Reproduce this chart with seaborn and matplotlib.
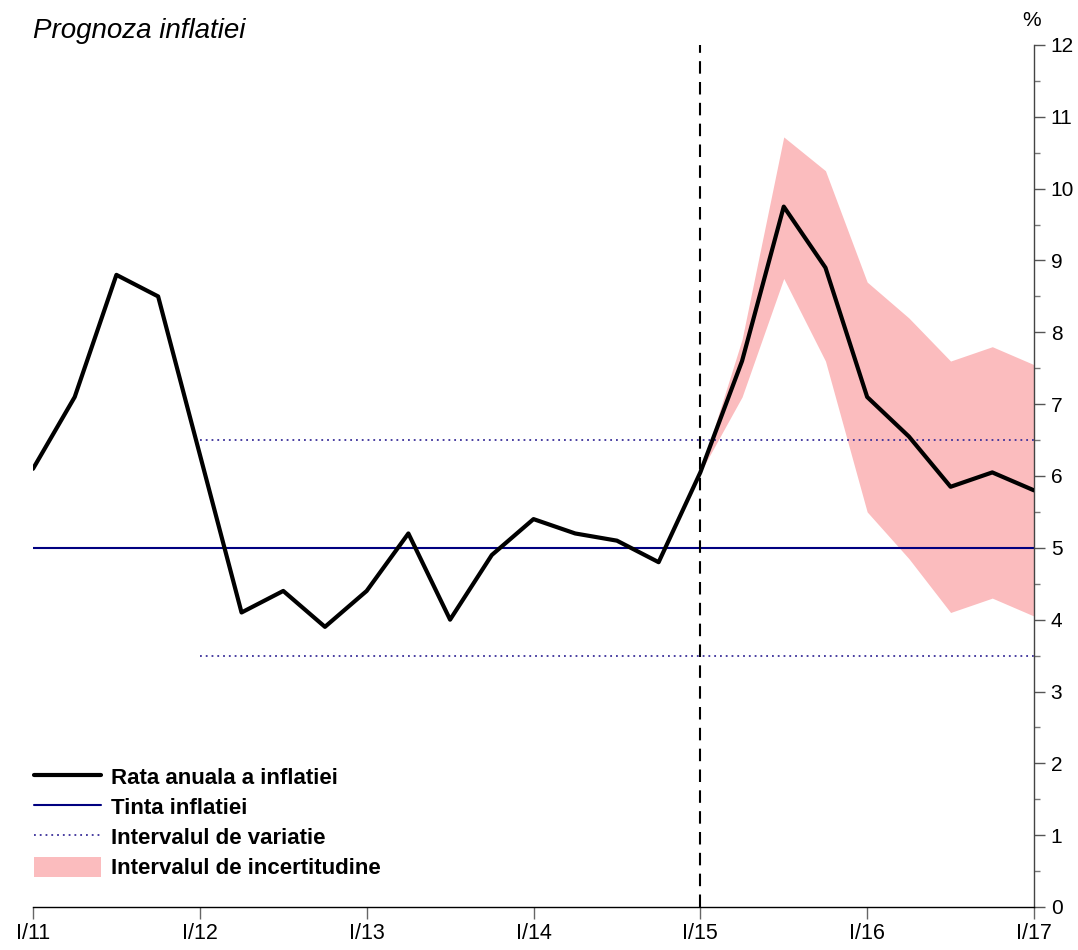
import numpy as np
import pandas as pd
import matplotlib.pyplot as plt
import seaborn as sns
from matplotlib.lines import Line2D
from matplotlib.patches import Patch
from matplotlib.ticker import MultipleLocator

# trimestre: 0 = I/11 ... 24 = I/17
trimestre = list(range(25))
rata_inflatiei = [6.1, 7.1, 8.8, 8.5, 6.3, 4.1, 4.4, 3.9, 4.4, 5.2, 4.0, 4.9,
                  5.4, 5.2, 5.1, 4.8, 6.05, 7.6, 9.75, 8.9, 7.1, 6.55, 5.85, 6.05, 5.8]

# intervalul de incertitudine (prognoza, de la I/15)
trimestre_prognoza = list(range(16, 25))
interval_sus = [6.05, 7.9, 10.72, 10.25, 8.7, 8.2, 7.6, 7.8, 7.55]
interval_jos = [6.05, 7.1, 8.75, 7.6, 5.5, 4.85, 4.1, 4.3, 4.05]

tinta = 5.0
variatie_jos = 3.5
variatie_sus = 6.5
inceput_variatie = 4      # I/12
moment_prognoza = 16      # I/15

etichete_x = ['I/11', 'I/12', 'I/13', 'I/14', 'I/15', 'I/16', 'I/17']
pozitii_x = [0, 4, 8, 12, 16, 20, 24]

df = pd.DataFrame({'trim': trimestre, 'rata': rata_inflatiei})

sns.set_style('white')
plt.rcParams['font.family'] = ['Liberation Sans', 'DejaVu Sans']
plt.rcParams['text.color'] = 'black'
plt.rcParams['xtick.color'] = 'black'
plt.rcParams['ytick.color'] = 'black'

fig = plt.figure(figsize=(10.78, 9.5), dpi=100)
ax = fig.add_axes([33 / 1078, 43 / 950, (1034 - 33) / 1078, (907 - 45) / 950])

culoare_roz = '#fbbcbe'
culoare_tinta = '#000080'
culoare_variatie = '#3a2f9a'

ax.fill_between(trimestre_prognoza, interval_jos, interval_sus, color=culoare_roz, lw=0, zorder=1)
ax.axhline(tinta, color=culoare_tinta, lw=1.5, zorder=2)
ax.hlines([variatie_sus, variatie_jos], inceput_variatie, 24, color=culoare_variatie,
          lw=1.3, linestyles=(0, (1, 2.2)), zorder=2)
ax.axvline(moment_prognoza, color='black', lw=1.5, ls=(0, (6, 4)), zorder=3)
sns.lineplot(data=df, x='trim', y='rata', color='black', lw=3, ax=ax, zorder=4)

ax.set_xlim(0, 24)
ax.set_ylim(0, 12)
ax.set_xticks(pozitii_x)
ax.set_xticklabels(etichete_x)
ax.yaxis.tick_right()
ax.set_yticks(range(0, 13))
ax.yaxis.set_minor_locator(MultipleLocator(0.5))
ax.tick_params(axis='y', which='major', length=8, width=1, color='#555555', labelsize=15, pad=4,
               right=True, left=False)
ax.tick_params(axis='y', which='minor', length=4, width=1, color='#777777', right=True, left=False)
ax.tick_params(axis='x', which='major', length=8.5, width=1, color='#666666', labelsize=15.5, pad=3,
               bottom=True)
ax.set_xlabel('')
ax.set_ylabel('')

for s in ['top', 'left']:
    ax.spines[s].set_visible(False)
ax.spines['right'].set_color('#444444')
ax.spines['bottom'].set_color('black')
ax.spines['right'].set_linewidth(1)
ax.spines['bottom'].set_linewidth(1)

fig.text(33 / 1078, 1 - 31 / 950, 'Prognoza inflatiei', fontsize=20, style='italic',
         va='center', ha='left')
fig.text(1032 / 1078, 1 - 21 / 950, '%', fontsize=15, va='center', ha='center')

handles = [
    Line2D([], [], color='black', lw=3),
    Line2D([], [], color=culoare_tinta, lw=1.5),
    Line2D([], [], color=culoare_variatie, lw=1.3, ls=(0, (1, 2.2))),
    Patch(facecolor=culoare_roz, edgecolor='none'),
]
labels = ['Rata anuala a inflatiei', 'Tinta inflatiei', 'Intervalul de variatie',
          'Intervalul de incertitudine']
leg = ax.legend(handles, labels, loc='upper left', bbox_to_anchor=(0.001, 0.163), frameon=False,
                borderpad=0, borderaxespad=0, handlelength=3.0, handleheight=1.0,
                handletextpad=0.45, labelspacing=0.34, prop={'size': 16, 'weight': 'bold'})

fig.savefig('out.png', dpi=100)
